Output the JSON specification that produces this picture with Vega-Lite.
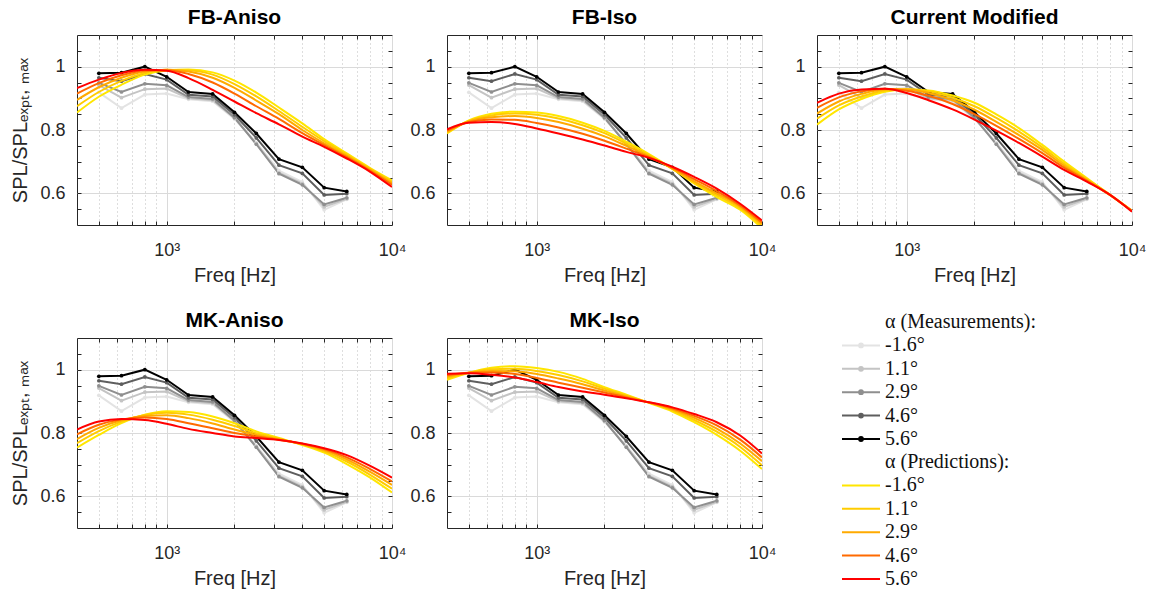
{
"$schema":"https://vega.github.io/schema/vega-lite/v6.json",
"padding":{"left":10,"top":6,"right":5,"bottom":0},
"config":{
 "font":"Liberation Sans",
 "view":{"stroke":"#262626","strokeWidth":1},
 "axis":{"labelFont":"Liberation Sans","labelFontSize":18,"labelColor":"#262626","titleFont":"Liberation Sans","titleFontSize":20,"titleFontWeight":"normal","titleColor":"#262626","gridColor":"#dadada","gridWidth":1,"tickColor":"#262626","domain":false},
 "title":{"font":"Liberation Sans","fontSize":21,"fontWeight":"bold","color":"#000000","offset":7},
 "legend":{"labelFont":"Liberation Serif","labelFontSize":20,"labelColor":"#111111","labelLimit":300,"padding":0}
},
"datasets":{
"meas":[
{"a":"-1.6°","f":500,"v":0.919},{"a":"-1.6°","f":630,"v":0.869},{"a":"-1.6°","f":800,"v":0.912},{"a":"-1.6°","f":1000,"v":0.915},{"a":"-1.6°","f":1250,"v":0.897},{"a":"-1.6°","f":1600,"v":0.891},{"a":"-1.6°","f":2000,"v":0.835},{"a":"-1.6°","f":2500,"v":0.760},{"a":"-1.6°","f":3150,"v":0.672},{"a":"-1.6°","f":4000,"v":0.636},{"a":"-1.6°","f":5000,"v":0.548},{"a":"-1.6°","f":6300,"v":0.581},
{"a":"1.1°","f":500,"v":0.942},{"a":"1.1°","f":630,"v":0.902},{"a":"1.1°","f":800,"v":0.929},{"a":"1.1°","f":1000,"v":0.931},{"a":"1.1°","f":1250,"v":0.900},{"a":"1.1°","f":1600,"v":0.894},{"a":"1.1°","f":2000,"v":0.838},{"a":"1.1°","f":2500,"v":0.757},{"a":"1.1°","f":3150,"v":0.665},{"a":"1.1°","f":4000,"v":0.631},{"a":"1.1°","f":5000,"v":0.557},{"a":"1.1°","f":6300,"v":0.583},
{"a":"2.9°","f":500,"v":0.949},{"a":"2.9°","f":630,"v":0.920},{"a":"2.9°","f":800,"v":0.946},{"a":"2.9°","f":1000,"v":0.941},{"a":"2.9°","f":1250,"v":0.904},{"a":"2.9°","f":1600,"v":0.898},{"a":"2.9°","f":2000,"v":0.839},{"a":"2.9°","f":2500,"v":0.755},{"a":"2.9°","f":3150,"v":0.662},{"a":"2.9°","f":4000,"v":0.627},{"a":"2.9°","f":5000,"v":0.565},{"a":"2.9°","f":6300,"v":0.586},
{"a":"4.6°","f":500,"v":0.965},{"a":"4.6°","f":630,"v":0.954},{"a":"4.6°","f":800,"v":0.977},{"a":"4.6°","f":1000,"v":0.959},{"a":"4.6°","f":1250,"v":0.911},{"a":"4.6°","f":1600,"v":0.906},{"a":"4.6°","f":2000,"v":0.848},{"a":"4.6°","f":2500,"v":0.775},{"a":"4.6°","f":3150,"v":0.689},{"a":"4.6°","f":4000,"v":0.663},{"a":"4.6°","f":5000,"v":0.595},{"a":"4.6°","f":6300,"v":0.599},
{"a":"5.6°","f":500,"v":0.979},{"a":"5.6°","f":630,"v":0.981},{"a":"5.6°","f":800,"v":1.000},{"a":"5.6°","f":1000,"v":0.968},{"a":"5.6°","f":1250,"v":0.920},{"a":"5.6°","f":1600,"v":0.914},{"a":"5.6°","f":2000,"v":0.856},{"a":"5.6°","f":2500,"v":0.789},{"a":"5.6°","f":3150,"v":0.708},{"a":"5.6°","f":4000,"v":0.682},{"a":"5.6°","f":5000,"v":0.618},{"a":"5.6°","f":6300,"v":0.606}
],
"pred":[
{"p":"FB-Aniso","a":"-1.6°","f":400,"v":0.855},{"p":"FB-Aniso","a":"-1.6°","f":500,"v":0.905},{"p":"FB-Aniso","a":"-1.6°","f":630,"v":0.943},{"p":"FB-Aniso","a":"-1.6°","f":800,"v":0.975},{"p":"FB-Aniso","a":"-1.6°","f":1000,"v":0.988},{"p":"FB-Aniso","a":"-1.6°","f":1250,"v":0.991},{"p":"FB-Aniso","a":"-1.6°","f":1600,"v":0.982},{"p":"FB-Aniso","a":"-1.6°","f":2000,"v":0.956},{"p":"FB-Aniso","a":"-1.6°","f":2500,"v":0.918},{"p":"FB-Aniso","a":"-1.6°","f":3150,"v":0.871},{"p":"FB-Aniso","a":"-1.6°","f":4000,"v":0.821},{"p":"FB-Aniso","a":"-1.6°","f":5000,"v":0.771},{"p":"FB-Aniso","a":"-1.6°","f":6300,"v":0.726},{"p":"FB-Aniso","a":"-1.6°","f":8000,"v":0.680},{"p":"FB-Aniso","a":"-1.6°","f":10000,"v":0.641},
{"p":"FB-Aniso","a":"1.1°","f":400,"v":0.875},{"p":"FB-Aniso","a":"1.1°","f":500,"v":0.920},{"p":"FB-Aniso","a":"1.1°","f":630,"v":0.955},{"p":"FB-Aniso","a":"1.1°","f":800,"v":0.980},{"p":"FB-Aniso","a":"1.1°","f":1000,"v":0.990},{"p":"FB-Aniso","a":"1.1°","f":1250,"v":0.989},{"p":"FB-Aniso","a":"1.1°","f":1600,"v":0.975},{"p":"FB-Aniso","a":"1.1°","f":2000,"v":0.945},{"p":"FB-Aniso","a":"1.1°","f":2500,"v":0.906},{"p":"FB-Aniso","a":"1.1°","f":3150,"v":0.860},{"p":"FB-Aniso","a":"1.1°","f":4000,"v":0.810},{"p":"FB-Aniso","a":"1.1°","f":5000,"v":0.765},{"p":"FB-Aniso","a":"1.1°","f":6300,"v":0.722},{"p":"FB-Aniso","a":"1.1°","f":8000,"v":0.677},{"p":"FB-Aniso","a":"1.1°","f":10000,"v":0.636},
{"p":"FB-Aniso","a":"2.9°","f":400,"v":0.895},{"p":"FB-Aniso","a":"2.9°","f":500,"v":0.935},{"p":"FB-Aniso","a":"2.9°","f":630,"v":0.965},{"p":"FB-Aniso","a":"2.9°","f":800,"v":0.985},{"p":"FB-Aniso","a":"2.9°","f":1000,"v":0.990},{"p":"FB-Aniso","a":"2.9°","f":1250,"v":0.985},{"p":"FB-Aniso","a":"2.9°","f":1600,"v":0.965},{"p":"FB-Aniso","a":"2.9°","f":2000,"v":0.933},{"p":"FB-Aniso","a":"2.9°","f":2500,"v":0.893},{"p":"FB-Aniso","a":"2.9°","f":3150,"v":0.850},{"p":"FB-Aniso","a":"2.9°","f":4000,"v":0.800},{"p":"FB-Aniso","a":"2.9°","f":5000,"v":0.758},{"p":"FB-Aniso","a":"2.9°","f":6300,"v":0.718},{"p":"FB-Aniso","a":"2.9°","f":8000,"v":0.674},{"p":"FB-Aniso","a":"2.9°","f":10000,"v":0.632},
{"p":"FB-Aniso","a":"4.6°","f":400,"v":0.915},{"p":"FB-Aniso","a":"4.6°","f":500,"v":0.948},{"p":"FB-Aniso","a":"4.6°","f":630,"v":0.973},{"p":"FB-Aniso","a":"4.6°","f":800,"v":0.988},{"p":"FB-Aniso","a":"4.6°","f":1000,"v":0.989},{"p":"FB-Aniso","a":"4.6°","f":1250,"v":0.977},{"p":"FB-Aniso","a":"4.6°","f":1600,"v":0.950},{"p":"FB-Aniso","a":"4.6°","f":2000,"v":0.915},{"p":"FB-Aniso","a":"4.6°","f":2500,"v":0.875},{"p":"FB-Aniso","a":"4.6°","f":3150,"v":0.835},{"p":"FB-Aniso","a":"4.6°","f":4000,"v":0.790},{"p":"FB-Aniso","a":"4.6°","f":5000,"v":0.752},{"p":"FB-Aniso","a":"4.6°","f":6300,"v":0.714},{"p":"FB-Aniso","a":"4.6°","f":8000,"v":0.671},{"p":"FB-Aniso","a":"4.6°","f":10000,"v":0.627},
{"p":"FB-Aniso","a":"5.6°","f":400,"v":0.932},{"p":"FB-Aniso","a":"5.6°","f":500,"v":0.959},{"p":"FB-Aniso","a":"5.6°","f":630,"v":0.980},{"p":"FB-Aniso","a":"5.6°","f":800,"v":0.990},{"p":"FB-Aniso","a":"5.6°","f":1000,"v":0.987},{"p":"FB-Aniso","a":"5.6°","f":1250,"v":0.964},{"p":"FB-Aniso","a":"5.6°","f":1600,"v":0.927},{"p":"FB-Aniso","a":"5.6°","f":2000,"v":0.890},{"p":"FB-Aniso","a":"5.6°","f":2500,"v":0.853},{"p":"FB-Aniso","a":"5.6°","f":3150,"v":0.818},{"p":"FB-Aniso","a":"5.6°","f":4000,"v":0.779},{"p":"FB-Aniso","a":"5.6°","f":5000,"v":0.747},{"p":"FB-Aniso","a":"5.6°","f":6300,"v":0.710},{"p":"FB-Aniso","a":"5.6°","f":8000,"v":0.668},{"p":"FB-Aniso","a":"5.6°","f":10000,"v":0.620},
{"p":"FB-Iso","a":"-1.6°","f":400,"v":0.789},{"p":"FB-Iso","a":"-1.6°","f":500,"v":0.830},{"p":"FB-Iso","a":"-1.6°","f":630,"v":0.851},{"p":"FB-Iso","a":"-1.6°","f":800,"v":0.858},{"p":"FB-Iso","a":"-1.6°","f":1000,"v":0.855},{"p":"FB-Iso","a":"-1.6°","f":1250,"v":0.844},{"p":"FB-Iso","a":"-1.6°","f":1600,"v":0.823},{"p":"FB-Iso","a":"-1.6°","f":2000,"v":0.797},{"p":"FB-Iso","a":"-1.6°","f":2500,"v":0.763},{"p":"FB-Iso","a":"-1.6°","f":3150,"v":0.724},{"p":"FB-Iso","a":"-1.6°","f":4000,"v":0.678},{"p":"FB-Iso","a":"-1.6°","f":5000,"v":0.631},{"p":"FB-Iso","a":"-1.6°","f":6300,"v":0.588},{"p":"FB-Iso","a":"-1.6°","f":8000,"v":0.548},{"p":"FB-Iso","a":"-1.6°","f":10000,"v":0.490},
{"p":"FB-Iso","a":"1.1°","f":400,"v":0.792},{"p":"FB-Iso","a":"1.1°","f":500,"v":0.829},{"p":"FB-Iso","a":"1.1°","f":630,"v":0.846},{"p":"FB-Iso","a":"1.1°","f":800,"v":0.852},{"p":"FB-Iso","a":"1.1°","f":1000,"v":0.848},{"p":"FB-Iso","a":"1.1°","f":1250,"v":0.836},{"p":"FB-Iso","a":"1.1°","f":1600,"v":0.815},{"p":"FB-Iso","a":"1.1°","f":2000,"v":0.790},{"p":"FB-Iso","a":"1.1°","f":2500,"v":0.757},{"p":"FB-Iso","a":"1.1°","f":3150,"v":0.720},{"p":"FB-Iso","a":"1.1°","f":4000,"v":0.677},{"p":"FB-Iso","a":"1.1°","f":5000,"v":0.634},{"p":"FB-Iso","a":"1.1°","f":6300,"v":0.594},{"p":"FB-Iso","a":"1.1°","f":8000,"v":0.553},{"p":"FB-Iso","a":"1.1°","f":10000,"v":0.497},
{"p":"FB-Iso","a":"2.9°","f":400,"v":0.795},{"p":"FB-Iso","a":"2.9°","f":500,"v":0.827},{"p":"FB-Iso","a":"2.9°","f":630,"v":0.840},{"p":"FB-Iso","a":"2.9°","f":800,"v":0.844},{"p":"FB-Iso","a":"2.9°","f":1000,"v":0.838},{"p":"FB-Iso","a":"2.9°","f":1250,"v":0.825},{"p":"FB-Iso","a":"2.9°","f":1600,"v":0.804},{"p":"FB-Iso","a":"2.9°","f":2000,"v":0.780},{"p":"FB-Iso","a":"2.9°","f":2500,"v":0.750},{"p":"FB-Iso","a":"2.9°","f":3150,"v":0.717},{"p":"FB-Iso","a":"2.9°","f":4000,"v":0.679},{"p":"FB-Iso","a":"2.9°","f":5000,"v":0.638},{"p":"FB-Iso","a":"2.9°","f":6300,"v":0.600},{"p":"FB-Iso","a":"2.9°","f":8000,"v":0.558},{"p":"FB-Iso","a":"2.9°","f":10000,"v":0.503},
{"p":"FB-Iso","a":"4.6°","f":400,"v":0.798},{"p":"FB-Iso","a":"4.6°","f":500,"v":0.825},{"p":"FB-Iso","a":"4.6°","f":630,"v":0.833},{"p":"FB-Iso","a":"4.6°","f":800,"v":0.832},{"p":"FB-Iso","a":"4.6°","f":1000,"v":0.822},{"p":"FB-Iso","a":"4.6°","f":1250,"v":0.808},{"p":"FB-Iso","a":"4.6°","f":1600,"v":0.788},{"p":"FB-Iso","a":"4.6°","f":2000,"v":0.766},{"p":"FB-Iso","a":"4.6°","f":2500,"v":0.741},{"p":"FB-Iso","a":"4.6°","f":3150,"v":0.714},{"p":"FB-Iso","a":"4.6°","f":4000,"v":0.681},{"p":"FB-Iso","a":"4.6°","f":5000,"v":0.645},{"p":"FB-Iso","a":"4.6°","f":6300,"v":0.607},{"p":"FB-Iso","a":"4.6°","f":8000,"v":0.562},{"p":"FB-Iso","a":"4.6°","f":10000,"v":0.508},
{"p":"FB-Iso","a":"5.6°","f":400,"v":0.802},{"p":"FB-Iso","a":"5.6°","f":500,"v":0.823},{"p":"FB-Iso","a":"5.6°","f":630,"v":0.825},{"p":"FB-Iso","a":"5.6°","f":800,"v":0.819},{"p":"FB-Iso","a":"5.6°","f":1000,"v":0.805},{"p":"FB-Iso","a":"5.6°","f":1250,"v":0.789},{"p":"FB-Iso","a":"5.6°","f":1600,"v":0.770},{"p":"FB-Iso","a":"5.6°","f":2000,"v":0.751},{"p":"FB-Iso","a":"5.6°","f":2500,"v":0.731},{"p":"FB-Iso","a":"5.6°","f":3150,"v":0.712},{"p":"FB-Iso","a":"5.6°","f":4000,"v":0.684},{"p":"FB-Iso","a":"5.6°","f":5000,"v":0.652},{"p":"FB-Iso","a":"5.6°","f":6300,"v":0.615},{"p":"FB-Iso","a":"5.6°","f":8000,"v":0.567},{"p":"FB-Iso","a":"5.6°","f":10000,"v":0.514},
{"p":"Current Modified","a":"-1.6°","f":400,"v":0.817},{"p":"Current Modified","a":"-1.6°","f":500,"v":0.865},{"p":"Current Modified","a":"-1.6°","f":630,"v":0.898},{"p":"Current Modified","a":"-1.6°","f":800,"v":0.921},{"p":"Current Modified","a":"-1.6°","f":1000,"v":0.928},{"p":"Current Modified","a":"-1.6°","f":1250,"v":0.925},{"p":"Current Modified","a":"-1.6°","f":1600,"v":0.909},{"p":"Current Modified","a":"-1.6°","f":2000,"v":0.886},{"p":"Current Modified","a":"-1.6°","f":2500,"v":0.849},{"p":"Current Modified","a":"-1.6°","f":3150,"v":0.806},{"p":"Current Modified","a":"-1.6°","f":4000,"v":0.753},{"p":"Current Modified","a":"-1.6°","f":5000,"v":0.700},{"p":"Current Modified","a":"-1.6°","f":6300,"v":0.648},{"p":"Current Modified","a":"-1.6°","f":8000,"v":0.595},{"p":"Current Modified","a":"-1.6°","f":10000,"v":0.545},
{"p":"Current Modified","a":"1.1°","f":400,"v":0.836},{"p":"Current Modified","a":"1.1°","f":500,"v":0.878},{"p":"Current Modified","a":"1.1°","f":630,"v":0.906},{"p":"Current Modified","a":"1.1°","f":800,"v":0.925},{"p":"Current Modified","a":"1.1°","f":1000,"v":0.929},{"p":"Current Modified","a":"1.1°","f":1250,"v":0.922},{"p":"Current Modified","a":"1.1°","f":1600,"v":0.902},{"p":"Current Modified","a":"1.1°","f":2000,"v":0.875},{"p":"Current Modified","a":"1.1°","f":2500,"v":0.838},{"p":"Current Modified","a":"1.1°","f":3150,"v":0.795},{"p":"Current Modified","a":"1.1°","f":4000,"v":0.745},{"p":"Current Modified","a":"1.1°","f":5000,"v":0.693},{"p":"Current Modified","a":"1.1°","f":6300,"v":0.645},{"p":"Current Modified","a":"1.1°","f":8000,"v":0.595},{"p":"Current Modified","a":"1.1°","f":10000,"v":0.545},
{"p":"Current Modified","a":"2.9°","f":400,"v":0.852},{"p":"Current Modified","a":"2.9°","f":500,"v":0.890},{"p":"Current Modified","a":"2.9°","f":630,"v":0.914},{"p":"Current Modified","a":"2.9°","f":800,"v":0.928},{"p":"Current Modified","a":"2.9°","f":1000,"v":0.928},{"p":"Current Modified","a":"2.9°","f":1250,"v":0.917},{"p":"Current Modified","a":"2.9°","f":1600,"v":0.894},{"p":"Current Modified","a":"2.9°","f":2000,"v":0.864},{"p":"Current Modified","a":"2.9°","f":2500,"v":0.826},{"p":"Current Modified","a":"2.9°","f":3150,"v":0.784},{"p":"Current Modified","a":"2.9°","f":4000,"v":0.737},{"p":"Current Modified","a":"2.9°","f":5000,"v":0.687},{"p":"Current Modified","a":"2.9°","f":6300,"v":0.642},{"p":"Current Modified","a":"2.9°","f":8000,"v":0.594},{"p":"Current Modified","a":"2.9°","f":10000,"v":0.545},
{"p":"Current Modified","a":"4.6°","f":400,"v":0.870},{"p":"Current Modified","a":"4.6°","f":500,"v":0.903},{"p":"Current Modified","a":"4.6°","f":630,"v":0.922},{"p":"Current Modified","a":"4.6°","f":800,"v":0.930},{"p":"Current Modified","a":"4.6°","f":1000,"v":0.924},{"p":"Current Modified","a":"4.6°","f":1250,"v":0.908},{"p":"Current Modified","a":"4.6°","f":1600,"v":0.882},{"p":"Current Modified","a":"4.6°","f":2000,"v":0.850},{"p":"Current Modified","a":"4.6°","f":2500,"v":0.813},{"p":"Current Modified","a":"4.6°","f":3150,"v":0.772},{"p":"Current Modified","a":"4.6°","f":4000,"v":0.727},{"p":"Current Modified","a":"4.6°","f":5000,"v":0.681},{"p":"Current Modified","a":"4.6°","f":6300,"v":0.640},{"p":"Current Modified","a":"4.6°","f":8000,"v":0.594},{"p":"Current Modified","a":"4.6°","f":10000,"v":0.544},
{"p":"Current Modified","a":"5.6°","f":400,"v":0.886},{"p":"Current Modified","a":"5.6°","f":500,"v":0.915},{"p":"Current Modified","a":"5.6°","f":630,"v":0.928},{"p":"Current Modified","a":"5.6°","f":800,"v":0.930},{"p":"Current Modified","a":"5.6°","f":1000,"v":0.917},{"p":"Current Modified","a":"5.6°","f":1250,"v":0.894},{"p":"Current Modified","a":"5.6°","f":1600,"v":0.865},{"p":"Current Modified","a":"5.6°","f":2000,"v":0.833},{"p":"Current Modified","a":"5.6°","f":2500,"v":0.798},{"p":"Current Modified","a":"5.6°","f":3150,"v":0.759},{"p":"Current Modified","a":"5.6°","f":4000,"v":0.716},{"p":"Current Modified","a":"5.6°","f":5000,"v":0.674},{"p":"Current Modified","a":"5.6°","f":6300,"v":0.637},{"p":"Current Modified","a":"5.6°","f":8000,"v":0.595},{"p":"Current Modified","a":"5.6°","f":10000,"v":0.542},
{"p":"MK-Aniso","a":"-1.6°","f":400,"v":0.754},{"p":"MK-Aniso","a":"-1.6°","f":500,"v":0.794},{"p":"MK-Aniso","a":"-1.6°","f":630,"v":0.831},{"p":"MK-Aniso","a":"-1.6°","f":800,"v":0.858},{"p":"MK-Aniso","a":"-1.6°","f":1000,"v":0.869},{"p":"MK-Aniso","a":"-1.6°","f":1250,"v":0.866},{"p":"MK-Aniso","a":"-1.6°","f":1600,"v":0.852},{"p":"MK-Aniso","a":"-1.6°","f":2000,"v":0.831},{"p":"MK-Aniso","a":"-1.6°","f":2500,"v":0.805},{"p":"MK-Aniso","a":"-1.6°","f":3150,"v":0.784},{"p":"MK-Aniso","a":"-1.6°","f":4000,"v":0.762},{"p":"MK-Aniso","a":"-1.6°","f":5000,"v":0.738},{"p":"MK-Aniso","a":"-1.6°","f":6300,"v":0.702},{"p":"MK-Aniso","a":"-1.6°","f":8000,"v":0.659},{"p":"MK-Aniso","a":"-1.6°","f":10000,"v":0.612},
{"p":"MK-Aniso","a":"1.1°","f":400,"v":0.768},{"p":"MK-Aniso","a":"1.1°","f":500,"v":0.806},{"p":"MK-Aniso","a":"1.1°","f":630,"v":0.836},{"p":"MK-Aniso","a":"1.1°","f":800,"v":0.857},{"p":"MK-Aniso","a":"1.1°","f":1000,"v":0.864},{"p":"MK-Aniso","a":"1.1°","f":1250,"v":0.858},{"p":"MK-Aniso","a":"1.1°","f":1600,"v":0.842},{"p":"MK-Aniso","a":"1.1°","f":2000,"v":0.822},{"p":"MK-Aniso","a":"1.1°","f":2500,"v":0.799},{"p":"MK-Aniso","a":"1.1°","f":3150,"v":0.782},{"p":"MK-Aniso","a":"1.1°","f":4000,"v":0.764},{"p":"MK-Aniso","a":"1.1°","f":5000,"v":0.742},{"p":"MK-Aniso","a":"1.1°","f":6300,"v":0.710},{"p":"MK-Aniso","a":"1.1°","f":8000,"v":0.668},{"p":"MK-Aniso","a":"1.1°","f":10000,"v":0.624},
{"p":"MK-Aniso","a":"2.9°","f":400,"v":0.781},{"p":"MK-Aniso","a":"2.9°","f":500,"v":0.816},{"p":"MK-Aniso","a":"2.9°","f":630,"v":0.840},{"p":"MK-Aniso","a":"2.9°","f":800,"v":0.854},{"p":"MK-Aniso","a":"2.9°","f":1000,"v":0.856},{"p":"MK-Aniso","a":"2.9°","f":1250,"v":0.847},{"p":"MK-Aniso","a":"2.9°","f":1600,"v":0.830},{"p":"MK-Aniso","a":"2.9°","f":2000,"v":0.811},{"p":"MK-Aniso","a":"2.9°","f":2500,"v":0.794},{"p":"MK-Aniso","a":"2.9°","f":3150,"v":0.780},{"p":"MK-Aniso","a":"2.9°","f":4000,"v":0.765},{"p":"MK-Aniso","a":"2.9°","f":5000,"v":0.746},{"p":"MK-Aniso","a":"2.9°","f":6300,"v":0.717},{"p":"MK-Aniso","a":"2.9°","f":8000,"v":0.677},{"p":"MK-Aniso","a":"2.9°","f":10000,"v":0.636},
{"p":"MK-Aniso","a":"4.6°","f":400,"v":0.796},{"p":"MK-Aniso","a":"4.6°","f":500,"v":0.826},{"p":"MK-Aniso","a":"4.6°","f":630,"v":0.843},{"p":"MK-Aniso","a":"4.6°","f":800,"v":0.849},{"p":"MK-Aniso","a":"4.6°","f":1000,"v":0.844},{"p":"MK-Aniso","a":"4.6°","f":1250,"v":0.831},{"p":"MK-Aniso","a":"4.6°","f":1600,"v":0.815},{"p":"MK-Aniso","a":"4.6°","f":2000,"v":0.800},{"p":"MK-Aniso","a":"4.6°","f":2500,"v":0.789},{"p":"MK-Aniso","a":"4.6°","f":3150,"v":0.779},{"p":"MK-Aniso","a":"4.6°","f":4000,"v":0.766},{"p":"MK-Aniso","a":"4.6°","f":5000,"v":0.749},{"p":"MK-Aniso","a":"4.6°","f":6300,"v":0.723},{"p":"MK-Aniso","a":"4.6°","f":8000,"v":0.686},{"p":"MK-Aniso","a":"4.6°","f":10000,"v":0.647},
{"p":"MK-Aniso","a":"5.6°","f":400,"v":0.811},{"p":"MK-Aniso","a":"5.6°","f":500,"v":0.836},{"p":"MK-Aniso","a":"5.6°","f":630,"v":0.844},{"p":"MK-Aniso","a":"5.6°","f":800,"v":0.841},{"p":"MK-Aniso","a":"5.6°","f":1000,"v":0.829},{"p":"MK-Aniso","a":"5.6°","f":1250,"v":0.813},{"p":"MK-Aniso","a":"5.6°","f":1600,"v":0.800},{"p":"MK-Aniso","a":"5.6°","f":2000,"v":0.789},{"p":"MK-Aniso","a":"5.6°","f":2500,"v":0.784},{"p":"MK-Aniso","a":"5.6°","f":3150,"v":0.778},{"p":"MK-Aniso","a":"5.6°","f":4000,"v":0.767},{"p":"MK-Aniso","a":"5.6°","f":5000,"v":0.752},{"p":"MK-Aniso","a":"5.6°","f":6300,"v":0.730},{"p":"MK-Aniso","a":"5.6°","f":8000,"v":0.696},{"p":"MK-Aniso","a":"5.6°","f":10000,"v":0.659},
{"p":"MK-Iso","a":"-1.6°","f":400,"v":0.968},{"p":"MK-Iso","a":"-1.6°","f":500,"v":0.990},{"p":"MK-Iso","a":"-1.6°","f":630,"v":1.006},{"p":"MK-Iso","a":"-1.6°","f":800,"v":1.011},{"p":"MK-Iso","a":"-1.6°","f":1000,"v":1.005},{"p":"MK-Iso","a":"-1.6°","f":1250,"v":0.993},{"p":"MK-Iso","a":"-1.6°","f":1600,"v":0.971},{"p":"MK-Iso","a":"-1.6°","f":2000,"v":0.945},{"p":"MK-Iso","a":"-1.6°","f":2500,"v":0.921},{"p":"MK-Iso","a":"-1.6°","f":3150,"v":0.895},{"p":"MK-Iso","a":"-1.6°","f":4000,"v":0.868},{"p":"MK-Iso","a":"-1.6°","f":5000,"v":0.834},{"p":"MK-Iso","a":"-1.6°","f":6300,"v":0.794},{"p":"MK-Iso","a":"-1.6°","f":8000,"v":0.744},{"p":"MK-Iso","a":"-1.6°","f":10000,"v":0.686},
{"p":"MK-Iso","a":"1.1°","f":400,"v":0.973},{"p":"MK-Iso","a":"1.1°","f":500,"v":0.990},{"p":"MK-Iso","a":"1.1°","f":630,"v":1.001},{"p":"MK-Iso","a":"1.1°","f":800,"v":1.003},{"p":"MK-Iso","a":"1.1°","f":1000,"v":0.996},{"p":"MK-Iso","a":"1.1°","f":1250,"v":0.983},{"p":"MK-Iso","a":"1.1°","f":1600,"v":0.963},{"p":"MK-Iso","a":"1.1°","f":2000,"v":0.940},{"p":"MK-Iso","a":"1.1°","f":2500,"v":0.918},{"p":"MK-Iso","a":"1.1°","f":3150,"v":0.896},{"p":"MK-Iso","a":"1.1°","f":4000,"v":0.872},{"p":"MK-Iso","a":"1.1°","f":5000,"v":0.841},{"p":"MK-Iso","a":"1.1°","f":6300,"v":0.804},{"p":"MK-Iso","a":"1.1°","f":8000,"v":0.756},{"p":"MK-Iso","a":"1.1°","f":10000,"v":0.698},
{"p":"MK-Iso","a":"2.9°","f":400,"v":0.978},{"p":"MK-Iso","a":"2.9°","f":500,"v":0.990},{"p":"MK-Iso","a":"2.9°","f":630,"v":0.996},{"p":"MK-Iso","a":"2.9°","f":800,"v":0.995},{"p":"MK-Iso","a":"2.9°","f":1000,"v":0.986},{"p":"MK-Iso","a":"2.9°","f":1250,"v":0.972},{"p":"MK-Iso","a":"2.9°","f":1600,"v":0.954},{"p":"MK-Iso","a":"2.9°","f":2000,"v":0.934},{"p":"MK-Iso","a":"2.9°","f":2500,"v":0.915},{"p":"MK-Iso","a":"2.9°","f":3150,"v":0.896},{"p":"MK-Iso","a":"2.9°","f":4000,"v":0.875},{"p":"MK-Iso","a":"2.9°","f":5000,"v":0.848},{"p":"MK-Iso","a":"2.9°","f":6300,"v":0.814},{"p":"MK-Iso","a":"2.9°","f":8000,"v":0.767},{"p":"MK-Iso","a":"2.9°","f":10000,"v":0.711},
{"p":"MK-Iso","a":"4.6°","f":400,"v":0.982},{"p":"MK-Iso","a":"4.6°","f":500,"v":0.990},{"p":"MK-Iso","a":"4.6°","f":630,"v":0.991},{"p":"MK-Iso","a":"4.6°","f":800,"v":0.986},{"p":"MK-Iso","a":"4.6°","f":1000,"v":0.974},{"p":"MK-Iso","a":"4.6°","f":1250,"v":0.959},{"p":"MK-Iso","a":"4.6°","f":1600,"v":0.943},{"p":"MK-Iso","a":"4.6°","f":2000,"v":0.928},{"p":"MK-Iso","a":"4.6°","f":2500,"v":0.912},{"p":"MK-Iso","a":"4.6°","f":3150,"v":0.897},{"p":"MK-Iso","a":"4.6°","f":4000,"v":0.878},{"p":"MK-Iso","a":"4.6°","f":5000,"v":0.854},{"p":"MK-Iso","a":"4.6°","f":6300,"v":0.824},{"p":"MK-Iso","a":"4.6°","f":8000,"v":0.779},{"p":"MK-Iso","a":"4.6°","f":10000,"v":0.723},
{"p":"MK-Iso","a":"5.6°","f":400,"v":0.987},{"p":"MK-Iso","a":"5.6°","f":500,"v":0.989},{"p":"MK-Iso","a":"5.6°","f":630,"v":0.984},{"p":"MK-Iso","a":"5.6°","f":800,"v":0.975},{"p":"MK-Iso","a":"5.6°","f":1000,"v":0.961},{"p":"MK-Iso","a":"5.6°","f":1250,"v":0.945},{"p":"MK-Iso","a":"5.6°","f":1600,"v":0.931},{"p":"MK-Iso","a":"5.6°","f":2000,"v":0.921},{"p":"MK-Iso","a":"5.6°","f":2500,"v":0.910},{"p":"MK-Iso","a":"5.6°","f":3150,"v":0.897},{"p":"MK-Iso","a":"5.6°","f":4000,"v":0.881},{"p":"MK-Iso","a":"5.6°","f":5000,"v":0.860},{"p":"MK-Iso","a":"5.6°","f":6300,"v":0.834},{"p":"MK-Iso","a":"5.6°","f":8000,"v":0.792},{"p":"MK-Iso","a":"5.6°","f":10000,"v":0.735}
]
},
"columns":3,
"spacing":{"row":113,"column":55},
"bounds":"flush",
"resolve":{"scale":{"color":"shared","stroke":"shared"},"legend":{"color":"shared","stroke":"shared"}},
"concat":[
{"title":"FB-Aniso","width":315,"height":190,"resolve":{"axis":{"x":"independent","y":"independent"}},"layer":[
 {"data":{"name":"meas"},"mark":{"type":"line","strokeWidth":2,"clip":true},"encoding":{
  "x":{"field":"f","type":"quantitative","scale":{"type":"log","domain":[400,10000],"nice":false},"axis":{"orient":"bottom","title":"Freq [Hz]","values":[500,600,700,800,900,1000,2000,3000,4000,5000,6000,7000,8000,9000,10000],"labelExpr":"abs(datum.value-1000)<1?'10³':abs(datum.value-10000)<1?'10⁴':''","labelOverlap":false,"labelFlush":false,"tickSize":-4,"labelPadding":20,"titlePadding":6,"gridDash":{"condition":{"test":"abs(datum.value-1000)<1||abs(datum.value-10000)<1","value":[]},"value":[1,3]},"gridColor":{"condition":{"test":"abs(datum.value-1000)<1||abs(datum.value-10000)<1","value":"#dadada"},"value":"#bdbdbd"}}},
  "y":{"field":"v","type":"quantitative","scale":{"domain":[0.5,1.1],"nice":false,"zero":false},"axis":{"orient":"left","title":"SPL/SPLₑₓₚₜ, ₘₐₓ","values":[0.55,0.6,0.65,0.7,0.75,0.8,0.85,0.9,0.95,1,1.05],"labelExpr":"abs(datum.value-0.6)<0.001?'0.6':abs(datum.value-0.8)<0.001?'0.8':abs(datum.value-1)<0.001?'1':''","labelOverlap":false,"labelFlush":false,"tickSize":-4,"labelPadding":16,"titlePadding":9,"gridOpacity":{"condition":{"test":"abs(datum.value-0.6)<0.001||abs(datum.value-0.8)<0.001||abs(datum.value-1)<0.001","value":1},"value":0}}},
  "color":{"field":"a","type":"nominal","scale":{"domain":["α (Measurements):","-1.6°","1.1°","2.9°","4.6°","5.6°"],"range":["rgba(0,0,0,0)","#E3E3E3","#C4C4C4","#8F8F8F","#5E5E5E","#000000"]},"legend":{"title":null,"orient":"none","legendX":764,"legendY":277,"direction":"vertical","symbolType":"M-1,0H1M-0.1,0a0.1,0.1 0 1,0 0.2,0a0.1,0.1 0 1,0 -0.2,0","symbolSize":1444,"symbolStrokeWidth":2,"clipHeight":20,"rowPadding":3.4,"labelOffset":4}}}},
 {"data":{"name":"meas"},"mark":{"type":"point","filled":true,"size":14,"opacity":1,"clip":true},"encoding":{
  "x":{"field":"f","type":"quantitative","axis":null},"y":{"field":"v","type":"quantitative","axis":null},
  "color":{"field":"a","type":"nominal","scale":{"domain":["α (Measurements):","-1.6°","1.1°","2.9°","4.6°","5.6°"],"range":["rgba(0,0,0,0)","#E3E3E3","#C4C4C4","#8F8F8F","#5E5E5E","#000000"]},"legend":{"title":null,"orient":"none","legendX":764,"legendY":277,"direction":"vertical","symbolType":"M-1,0H1M-0.1,0a0.1,0.1 0 1,0 0.2,0a0.1,0.1 0 1,0 -0.2,0","symbolSize":1444,"symbolStrokeWidth":2,"clipHeight":20,"rowPadding":3.4,"labelOffset":4}}}},
 {"data":{"name":"pred"},"transform":[{"filter":"datum.p=='FB-Aniso'"}],"mark":{"type":"line","strokeWidth":2,"clip":true,"interpolate":"monotone"},"encoding":{
  "x":{"field":"f","type":"quantitative","axis":null},"y":{"field":"v","type":"quantitative","axis":null},
  "stroke":{"field":"a","type":"nominal","scale":{"domain":["α (Predictions):","-1.6°","1.1°","2.9°","4.6°","5.6°"],"range":["rgba(0,0,0,0)","#FFE600","#FFCC00","#FFAA00","#FF6A00","#FF0000"]},"legend":{"title":null,"orient":"none","legendX":764,"legendY":417,"direction":"vertical","symbolType":"stroke","symbolSize":1444,"symbolStrokeWidth":2,"clipHeight":20,"rowPadding":3.4,"labelOffset":4}}}},
 {"data":{"name":"meas"},"mark":{"type":"point","opacity":0},"encoding":{
  "x":{"field":"f","type":"quantitative","axis":{"orient":"top","title":null,"labels":false,"grid":false,"values":[500,600,700,800,900,1000,2000,3000,4000,5000,6000,7000,8000,9000],"tickSize":-4}},
  "y":{"field":"v","type":"quantitative","axis":{"orient":"right","title":null,"labels":false,"grid":false,"values":[0.55,0.6,0.65,0.7,0.75,0.8,0.85,0.9,0.95,1,1.05],"tickSize":-4}}}}
]},
{"title":"FB-Iso","width":315,"height":190,"resolve":{"axis":{"x":"independent","y":"independent"}},"layer":[
 {"data":{"name":"meas"},"mark":{"type":"line","strokeWidth":2,"clip":true},"encoding":{
  "x":{"field":"f","type":"quantitative","scale":{"type":"log","domain":[400,10000],"nice":false},"axis":{"orient":"bottom","title":"Freq [Hz]","values":[500,600,700,800,900,1000,2000,3000,4000,5000,6000,7000,8000,9000,10000],"labelExpr":"abs(datum.value-1000)<1?'10³':abs(datum.value-10000)<1?'10⁴':''","labelOverlap":false,"labelFlush":false,"tickSize":-4,"labelPadding":20,"titlePadding":6,"gridDash":{"condition":{"test":"abs(datum.value-1000)<1||abs(datum.value-10000)<1","value":[]},"value":[1,3]},"gridColor":{"condition":{"test":"abs(datum.value-1000)<1||abs(datum.value-10000)<1","value":"#dadada"},"value":"#bdbdbd"}}},
  "y":{"field":"v","type":"quantitative","scale":{"domain":[0.5,1.1],"nice":false,"zero":false},"axis":{"orient":"left","title":null,"values":[0.55,0.6,0.65,0.7,0.75,0.8,0.85,0.9,0.95,1,1.05],"labelExpr":"abs(datum.value-0.6)<0.001?'0.6':abs(datum.value-0.8)<0.001?'0.8':abs(datum.value-1)<0.001?'1':''","labelOverlap":false,"labelFlush":false,"tickSize":-4,"labelPadding":16,"gridOpacity":{"condition":{"test":"abs(datum.value-0.6)<0.001||abs(datum.value-0.8)<0.001||abs(datum.value-1)<0.001","value":1},"value":0}}},
  "color":{"field":"a","type":"nominal","scale":{"domain":["α (Measurements):","-1.6°","1.1°","2.9°","4.6°","5.6°"],"range":["rgba(0,0,0,0)","#E3E3E3","#C4C4C4","#8F8F8F","#5E5E5E","#000000"]},"legend":{"title":null,"orient":"none","legendX":764,"legendY":277,"direction":"vertical","symbolType":"M-1,0H1M-0.1,0a0.1,0.1 0 1,0 0.2,0a0.1,0.1 0 1,0 -0.2,0","symbolSize":1444,"symbolStrokeWidth":2,"clipHeight":20,"rowPadding":3.4,"labelOffset":4}}}},
 {"data":{"name":"meas"},"mark":{"type":"point","filled":true,"size":14,"opacity":1,"clip":true},"encoding":{
  "x":{"field":"f","type":"quantitative","axis":null},"y":{"field":"v","type":"quantitative","axis":null},
  "color":{"field":"a","type":"nominal","scale":{"domain":["α (Measurements):","-1.6°","1.1°","2.9°","4.6°","5.6°"],"range":["rgba(0,0,0,0)","#E3E3E3","#C4C4C4","#8F8F8F","#5E5E5E","#000000"]},"legend":{"title":null,"orient":"none","legendX":764,"legendY":277,"direction":"vertical","symbolType":"M-1,0H1M-0.1,0a0.1,0.1 0 1,0 0.2,0a0.1,0.1 0 1,0 -0.2,0","symbolSize":1444,"symbolStrokeWidth":2,"clipHeight":20,"rowPadding":3.4,"labelOffset":4}}}},
 {"data":{"name":"pred"},"transform":[{"filter":"datum.p=='FB-Iso'"}],"mark":{"type":"line","strokeWidth":2,"clip":true,"interpolate":"monotone"},"encoding":{
  "x":{"field":"f","type":"quantitative","axis":null},"y":{"field":"v","type":"quantitative","axis":null},
  "stroke":{"field":"a","type":"nominal","scale":{"domain":["α (Predictions):","-1.6°","1.1°","2.9°","4.6°","5.6°"],"range":["rgba(0,0,0,0)","#FFE600","#FFCC00","#FFAA00","#FF6A00","#FF0000"]},"legend":{"title":null,"orient":"none","legendX":764,"legendY":417,"direction":"vertical","symbolType":"stroke","symbolSize":1444,"symbolStrokeWidth":2,"clipHeight":20,"rowPadding":3.4,"labelOffset":4}}}},
 {"data":{"name":"meas"},"mark":{"type":"point","opacity":0},"encoding":{
  "x":{"field":"f","type":"quantitative","axis":{"orient":"top","title":null,"labels":false,"grid":false,"values":[500,600,700,800,900,1000,2000,3000,4000,5000,6000,7000,8000,9000],"tickSize":-4}},
  "y":{"field":"v","type":"quantitative","axis":{"orient":"right","title":null,"labels":false,"grid":false,"values":[0.55,0.6,0.65,0.7,0.75,0.8,0.85,0.9,0.95,1,1.05],"tickSize":-4}}}}
]},
{"title":"Current Modified","width":315,"height":190,"resolve":{"axis":{"x":"independent","y":"independent"}},"layer":[
 {"data":{"name":"meas"},"mark":{"type":"line","strokeWidth":2,"clip":true},"encoding":{
  "x":{"field":"f","type":"quantitative","scale":{"type":"log","domain":[400,10000],"nice":false},"axis":{"orient":"bottom","title":"Freq [Hz]","values":[500,600,700,800,900,1000,2000,3000,4000,5000,6000,7000,8000,9000,10000],"labelExpr":"abs(datum.value-1000)<1?'10³':abs(datum.value-10000)<1?'10⁴':''","labelOverlap":false,"labelFlush":false,"tickSize":-4,"labelPadding":20,"titlePadding":6,"gridDash":{"condition":{"test":"abs(datum.value-1000)<1||abs(datum.value-10000)<1","value":[]},"value":[1,3]},"gridColor":{"condition":{"test":"abs(datum.value-1000)<1||abs(datum.value-10000)<1","value":"#dadada"},"value":"#bdbdbd"}}},
  "y":{"field":"v","type":"quantitative","scale":{"domain":[0.5,1.1],"nice":false,"zero":false},"axis":{"orient":"left","title":null,"values":[0.55,0.6,0.65,0.7,0.75,0.8,0.85,0.9,0.95,1,1.05],"labelExpr":"abs(datum.value-0.6)<0.001?'0.6':abs(datum.value-0.8)<0.001?'0.8':abs(datum.value-1)<0.001?'1':''","labelOverlap":false,"labelFlush":false,"tickSize":-4,"labelPadding":16,"gridOpacity":{"condition":{"test":"abs(datum.value-0.6)<0.001||abs(datum.value-0.8)<0.001||abs(datum.value-1)<0.001","value":1},"value":0}}},
  "color":{"field":"a","type":"nominal","scale":{"domain":["α (Measurements):","-1.6°","1.1°","2.9°","4.6°","5.6°"],"range":["rgba(0,0,0,0)","#E3E3E3","#C4C4C4","#8F8F8F","#5E5E5E","#000000"]},"legend":{"title":null,"orient":"none","legendX":764,"legendY":277,"direction":"vertical","symbolType":"M-1,0H1M-0.1,0a0.1,0.1 0 1,0 0.2,0a0.1,0.1 0 1,0 -0.2,0","symbolSize":1444,"symbolStrokeWidth":2,"clipHeight":20,"rowPadding":3.4,"labelOffset":4}}}},
 {"data":{"name":"meas"},"mark":{"type":"point","filled":true,"size":14,"opacity":1,"clip":true},"encoding":{
  "x":{"field":"f","type":"quantitative","axis":null},"y":{"field":"v","type":"quantitative","axis":null},
  "color":{"field":"a","type":"nominal","scale":{"domain":["α (Measurements):","-1.6°","1.1°","2.9°","4.6°","5.6°"],"range":["rgba(0,0,0,0)","#E3E3E3","#C4C4C4","#8F8F8F","#5E5E5E","#000000"]},"legend":{"title":null,"orient":"none","legendX":764,"legendY":277,"direction":"vertical","symbolType":"M-1,0H1M-0.1,0a0.1,0.1 0 1,0 0.2,0a0.1,0.1 0 1,0 -0.2,0","symbolSize":1444,"symbolStrokeWidth":2,"clipHeight":20,"rowPadding":3.4,"labelOffset":4}}}},
 {"data":{"name":"pred"},"transform":[{"filter":"datum.p=='Current Modified'"}],"mark":{"type":"line","strokeWidth":2,"clip":true,"interpolate":"monotone"},"encoding":{
  "x":{"field":"f","type":"quantitative","axis":null},"y":{"field":"v","type":"quantitative","axis":null},
  "stroke":{"field":"a","type":"nominal","scale":{"domain":["α (Predictions):","-1.6°","1.1°","2.9°","4.6°","5.6°"],"range":["rgba(0,0,0,0)","#FFE600","#FFCC00","#FFAA00","#FF6A00","#FF0000"]},"legend":{"title":null,"orient":"none","legendX":764,"legendY":417,"direction":"vertical","symbolType":"stroke","symbolSize":1444,"symbolStrokeWidth":2,"clipHeight":20,"rowPadding":3.4,"labelOffset":4}}}},
 {"data":{"name":"meas"},"mark":{"type":"point","opacity":0},"encoding":{
  "x":{"field":"f","type":"quantitative","axis":{"orient":"top","title":null,"labels":false,"grid":false,"values":[500,600,700,800,900,1000,2000,3000,4000,5000,6000,7000,8000,9000],"tickSize":-4}},
  "y":{"field":"v","type":"quantitative","axis":{"orient":"right","title":null,"labels":false,"grid":false,"values":[0.55,0.6,0.65,0.7,0.75,0.8,0.85,0.9,0.95,1,1.05],"tickSize":-4}}}}
]},
{"title":"MK-Aniso","width":315,"height":190,"resolve":{"axis":{"x":"independent","y":"independent"}},"layer":[
 {"data":{"name":"meas"},"mark":{"type":"line","strokeWidth":2,"clip":true},"encoding":{
  "x":{"field":"f","type":"quantitative","scale":{"type":"log","domain":[400,10000],"nice":false},"axis":{"orient":"bottom","title":"Freq [Hz]","values":[500,600,700,800,900,1000,2000,3000,4000,5000,6000,7000,8000,9000,10000],"labelExpr":"abs(datum.value-1000)<1?'10³':abs(datum.value-10000)<1?'10⁴':''","labelOverlap":false,"labelFlush":false,"tickSize":-4,"labelPadding":20,"titlePadding":6,"gridDash":{"condition":{"test":"abs(datum.value-1000)<1||abs(datum.value-10000)<1","value":[]},"value":[1,3]},"gridColor":{"condition":{"test":"abs(datum.value-1000)<1||abs(datum.value-10000)<1","value":"#dadada"},"value":"#bdbdbd"}}},
  "y":{"field":"v","type":"quantitative","scale":{"domain":[0.5,1.1],"nice":false,"zero":false},"axis":{"orient":"left","title":"SPL/SPLₑₓₚₜ, ₘₐₓ","values":[0.55,0.6,0.65,0.7,0.75,0.8,0.85,0.9,0.95,1,1.05],"labelExpr":"abs(datum.value-0.6)<0.001?'0.6':abs(datum.value-0.8)<0.001?'0.8':abs(datum.value-1)<0.001?'1':''","labelOverlap":false,"labelFlush":false,"tickSize":-4,"labelPadding":16,"titlePadding":9,"gridOpacity":{"condition":{"test":"abs(datum.value-0.6)<0.001||abs(datum.value-0.8)<0.001||abs(datum.value-1)<0.001","value":1},"value":0}}},
  "color":{"field":"a","type":"nominal","scale":{"domain":["α (Measurements):","-1.6°","1.1°","2.9°","4.6°","5.6°"],"range":["rgba(0,0,0,0)","#E3E3E3","#C4C4C4","#8F8F8F","#5E5E5E","#000000"]},"legend":{"title":null,"orient":"none","legendX":764,"legendY":277,"direction":"vertical","symbolType":"M-1,0H1M-0.1,0a0.1,0.1 0 1,0 0.2,0a0.1,0.1 0 1,0 -0.2,0","symbolSize":1444,"symbolStrokeWidth":2,"clipHeight":20,"rowPadding":3.4,"labelOffset":4}}}},
 {"data":{"name":"meas"},"mark":{"type":"point","filled":true,"size":14,"opacity":1,"clip":true},"encoding":{
  "x":{"field":"f","type":"quantitative","axis":null},"y":{"field":"v","type":"quantitative","axis":null},
  "color":{"field":"a","type":"nominal","scale":{"domain":["α (Measurements):","-1.6°","1.1°","2.9°","4.6°","5.6°"],"range":["rgba(0,0,0,0)","#E3E3E3","#C4C4C4","#8F8F8F","#5E5E5E","#000000"]},"legend":{"title":null,"orient":"none","legendX":764,"legendY":277,"direction":"vertical","symbolType":"M-1,0H1M-0.1,0a0.1,0.1 0 1,0 0.2,0a0.1,0.1 0 1,0 -0.2,0","symbolSize":1444,"symbolStrokeWidth":2,"clipHeight":20,"rowPadding":3.4,"labelOffset":4}}}},
 {"data":{"name":"pred"},"transform":[{"filter":"datum.p=='MK-Aniso'"}],"mark":{"type":"line","strokeWidth":2,"clip":true,"interpolate":"monotone"},"encoding":{
  "x":{"field":"f","type":"quantitative","axis":null},"y":{"field":"v","type":"quantitative","axis":null},
  "stroke":{"field":"a","type":"nominal","scale":{"domain":["α (Predictions):","-1.6°","1.1°","2.9°","4.6°","5.6°"],"range":["rgba(0,0,0,0)","#FFE600","#FFCC00","#FFAA00","#FF6A00","#FF0000"]},"legend":{"title":null,"orient":"none","legendX":764,"legendY":417,"direction":"vertical","symbolType":"stroke","symbolSize":1444,"symbolStrokeWidth":2,"clipHeight":20,"rowPadding":3.4,"labelOffset":4}}}},
 {"data":{"name":"meas"},"mark":{"type":"point","opacity":0},"encoding":{
  "x":{"field":"f","type":"quantitative","axis":{"orient":"top","title":null,"labels":false,"grid":false,"values":[500,600,700,800,900,1000,2000,3000,4000,5000,6000,7000,8000,9000],"tickSize":-4}},
  "y":{"field":"v","type":"quantitative","axis":{"orient":"right","title":null,"labels":false,"grid":false,"values":[0.55,0.6,0.65,0.7,0.75,0.8,0.85,0.9,0.95,1,1.05],"tickSize":-4}}}}
]},
{"title":"MK-Iso","width":315,"height":190,"resolve":{"axis":{"x":"independent","y":"independent"}},"layer":[
 {"data":{"name":"meas"},"mark":{"type":"line","strokeWidth":2,"clip":true},"encoding":{
  "x":{"field":"f","type":"quantitative","scale":{"type":"log","domain":[400,10000],"nice":false},"axis":{"orient":"bottom","title":"Freq [Hz]","values":[500,600,700,800,900,1000,2000,3000,4000,5000,6000,7000,8000,9000,10000],"labelExpr":"abs(datum.value-1000)<1?'10³':abs(datum.value-10000)<1?'10⁴':''","labelOverlap":false,"labelFlush":false,"tickSize":-4,"labelPadding":20,"titlePadding":6,"gridDash":{"condition":{"test":"abs(datum.value-1000)<1||abs(datum.value-10000)<1","value":[]},"value":[1,3]},"gridColor":{"condition":{"test":"abs(datum.value-1000)<1||abs(datum.value-10000)<1","value":"#dadada"},"value":"#bdbdbd"}}},
  "y":{"field":"v","type":"quantitative","scale":{"domain":[0.5,1.1],"nice":false,"zero":false},"axis":{"orient":"left","title":null,"values":[0.55,0.6,0.65,0.7,0.75,0.8,0.85,0.9,0.95,1,1.05],"labelExpr":"abs(datum.value-0.6)<0.001?'0.6':abs(datum.value-0.8)<0.001?'0.8':abs(datum.value-1)<0.001?'1':''","labelOverlap":false,"labelFlush":false,"tickSize":-4,"labelPadding":16,"gridOpacity":{"condition":{"test":"abs(datum.value-0.6)<0.001||abs(datum.value-0.8)<0.001||abs(datum.value-1)<0.001","value":1},"value":0}}},
  "color":{"field":"a","type":"nominal","scale":{"domain":["α (Measurements):","-1.6°","1.1°","2.9°","4.6°","5.6°"],"range":["rgba(0,0,0,0)","#E3E3E3","#C4C4C4","#8F8F8F","#5E5E5E","#000000"]},"legend":{"title":null,"orient":"none","legendX":764,"legendY":277,"direction":"vertical","symbolType":"M-1,0H1M-0.1,0a0.1,0.1 0 1,0 0.2,0a0.1,0.1 0 1,0 -0.2,0","symbolSize":1444,"symbolStrokeWidth":2,"clipHeight":20,"rowPadding":3.4,"labelOffset":4}}}},
 {"data":{"name":"meas"},"mark":{"type":"point","filled":true,"size":14,"opacity":1,"clip":true},"encoding":{
  "x":{"field":"f","type":"quantitative","axis":null},"y":{"field":"v","type":"quantitative","axis":null},
  "color":{"field":"a","type":"nominal","scale":{"domain":["α (Measurements):","-1.6°","1.1°","2.9°","4.6°","5.6°"],"range":["rgba(0,0,0,0)","#E3E3E3","#C4C4C4","#8F8F8F","#5E5E5E","#000000"]},"legend":{"title":null,"orient":"none","legendX":764,"legendY":277,"direction":"vertical","symbolType":"M-1,0H1M-0.1,0a0.1,0.1 0 1,0 0.2,0a0.1,0.1 0 1,0 -0.2,0","symbolSize":1444,"symbolStrokeWidth":2,"clipHeight":20,"rowPadding":3.4,"labelOffset":4}}}},
 {"data":{"name":"pred"},"transform":[{"filter":"datum.p=='MK-Iso'"}],"mark":{"type":"line","strokeWidth":2,"clip":true,"interpolate":"monotone"},"encoding":{
  "x":{"field":"f","type":"quantitative","axis":null},"y":{"field":"v","type":"quantitative","axis":null},
  "stroke":{"field":"a","type":"nominal","scale":{"domain":["α (Predictions):","-1.6°","1.1°","2.9°","4.6°","5.6°"],"range":["rgba(0,0,0,0)","#FFE600","#FFCC00","#FFAA00","#FF6A00","#FF0000"]},"legend":{"title":null,"orient":"none","legendX":764,"legendY":417,"direction":"vertical","symbolType":"stroke","symbolSize":1444,"symbolStrokeWidth":2,"clipHeight":20,"rowPadding":3.4,"labelOffset":4}}}},
 {"data":{"name":"meas"},"mark":{"type":"point","opacity":0},"encoding":{
  "x":{"field":"f","type":"quantitative","axis":{"orient":"top","title":null,"labels":false,"grid":false,"values":[500,600,700,800,900,1000,2000,3000,4000,5000,6000,7000,8000,9000],"tickSize":-4}},
  "y":{"field":"v","type":"quantitative","axis":{"orient":"right","title":null,"labels":false,"grid":false,"values":[0.55,0.6,0.65,0.7,0.75,0.8,0.85,0.9,0.95,1,1.05],"tickSize":-4}}}}
]}
]
}
